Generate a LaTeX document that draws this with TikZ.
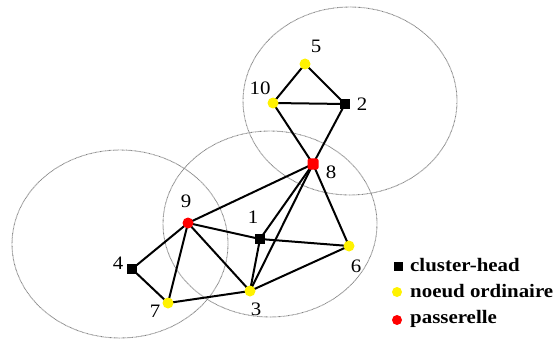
\documentclass[tikz,border=0pt]{standalone}
\usepackage{fontspec}
\setmainfont{Liberation Serif}[FakeStretch=1.1]
\usetikzlibrary{backgrounds}
\tikzset{
  ch/.style={rectangle,fill=black,minimum size=10pt,inner sep=0pt},
  ord/.style={circle,fill=yellow,minimum size=11pt,inner sep=0pt},
  pas/.style={circle,fill=red,minimum size=11pt,inner sep=0pt},
  pasq/.style={rectangle,rounded corners=2pt,fill=red,minimum size=11pt,inner sep=0pt},
  lbl/.style={inner sep=0pt,font=\fontsize{19}{21}\selectfont},
  leg/.style={inner sep=0pt,anchor=west,font=\fontsize{19}{21}\selectfont\bfseries},
  link/.style={line width=2pt,black},
  zone/.style={gray,line width=0.9pt,dash pattern=on 0.7pt off 0.6pt}
}
\begin{document}
\begin{tikzpicture}[x=1pt,y=-1pt]
\useasboundingbox (0,0) rectangle (556,339);
% nodes
\node[ord] (n5) at (305,64) {};
\node[ord] (n10) at (273,103) {};
\node[ch] (n2) at (345,104) {};
\node[pasq] (n8) at (313,164) {};
\node[pas] (n9) at (188,223) {};
\node[ch] (n1) at (260,239) {};
\node[ch] (n4) at (132,269) {};
\node[ord] (n7) at (168,303) {};
\node[ord] (n3) at (250,291) {};
\node[ord] (n6) at (349,246) {};
% labels
\node[lbl] (l5) at (316,46) {5};
\node[lbl] (l10) at (260,88) {10};
\node[lbl] (l2) at (362,104) {2};
\node[lbl] (l8) at (331,172) {8};
\node[lbl] (l9) at (186,201) {9};
\node[lbl] (l1) at (253,217) {1};
\node[lbl] (l4) at (118,263) {4};
\node[lbl] (l7) at (155,311) {7};
\node[lbl] (l3) at (256,309) {3};
\node[lbl] (l6) at (356,266) {6};
% legend
\node[ch,minimum size=9pt] (k1) at (398,266) {};
\node[leg] (t1) at (410,265) {cluster-head};
\node[ord,minimum size=10pt] (k2) at (397,292) {};
\node[leg] (t2) at (410,291) {noeud ordinaire};
\node[pas,minimum size=10pt] (k3) at (397,320) {};
\node[leg] (t3) at (410,319) {passerelle};
\begin{scope}[on background layer]
  \draw[zone] (350,101) ellipse [x radius=107pt, y radius=94pt];
  \draw[zone] (270,224) ellipse [x radius=107pt, y radius=93pt];
  \draw[zone] (120,244) ellipse [x radius=108pt, y radius=94pt];
  \draw[link] (n5.center) -- (n10.center);
  \draw[link] (n5.center) -- (n2.center);
  \draw[link] (n10.center) -- (n2.center);
  \draw[link] (n10.center) -- (n8.center);
  \draw[link] (n2.center) -- (n8.center);
  \draw[link] (n8.center) -- (n9.center);
  \draw[link] (n8.center) -- (n1.center);
  \draw[link] (n8.center) -- (n3.center);
  \draw[link] (n8.center) -- (n6.center);
  \draw[link] (n9.center) -- (n1.center);
  \draw[link] (n9.center) -- (n4.center);
  \draw[link] (n9.center) -- (n7.center);
  \draw[link] (n9.center) -- (n3.center);
  \draw[link] (n1.center) -- (n6.center);
  \draw[link] (n1.center) -- (n3.center);
  \draw[link] (n3.center) -- (n6.center);
  \draw[link] (n3.center) -- (n7.center);
  \draw[link] (n4.center) -- (n7.center);
\end{scope}
\end{tikzpicture}
\end{document}
